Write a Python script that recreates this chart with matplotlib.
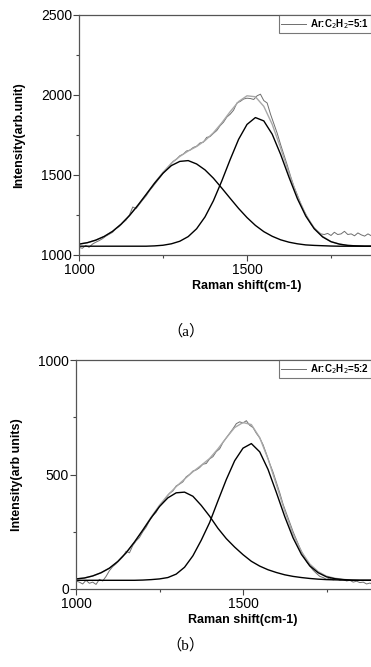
import matplotlib
matplotlib.use("Agg")
import matplotlib.pyplot as plt
from matplotlib.ticker import MultipleLocator, FixedLocator

x_fit = [1000, 1025, 1050, 1075, 1100, 1125, 1150, 1175, 1200, 1225, 1250, 1275,
         1300, 1325, 1350, 1375, 1400, 1425, 1450, 1475, 1500, 1525, 1550, 1575,
         1600, 1625, 1650, 1675, 1700, 1725, 1750, 1775, 1800, 1825, 1850, 1875, 1900]

# (a) Ar:C2H2 = 5:1
d_peak_a = [1068, 1077, 1093, 1116, 1148, 1192, 1246, 1310, 1379, 1449, 1511, 1559,
            1585, 1590, 1569, 1532, 1480, 1418, 1354, 1291, 1234, 1185, 1146, 1117,
            1095, 1080, 1070, 1063, 1060, 1058, 1056, 1055, 1055, 1055, 1055, 1055, 1055]
g_peak_a = [1055, 1055, 1055, 1055, 1055, 1055, 1055, 1055, 1055, 1057, 1061, 1070,
            1086, 1115, 1164, 1238, 1339, 1463, 1597, 1723, 1816, 1859, 1838, 1755,
            1629, 1486, 1352, 1243, 1164, 1113, 1083, 1068, 1060, 1057, 1055, 1055, 1055]
sum_fit_a = [1068, 1077, 1093, 1116, 1148, 1192, 1246, 1310, 1379, 1451, 1517, 1574,
             1616, 1650, 1678, 1715, 1764, 1826, 1896, 1959, 1995, 1989, 1929, 1817,
             1669, 1511, 1367, 1251, 1169, 1116, 1084, 1068, 1060, 1057, 1055, 1055, 1055]

# (b) Ar:C2H2 = 5:2
d_peak_b = [44, 48, 57, 71, 91, 120, 158, 205, 257, 311, 360, 398,
            420, 423, 405, 365, 318, 265, 220, 183, 150, 121, 100, 84,
            72, 62, 55, 50, 46, 43, 41, 40, 39, 38, 38, 38, 38]
g_peak_b = [38, 38, 38, 38, 38, 38, 38, 38, 39, 41, 44, 50,
            65, 95, 145, 213, 290, 385, 478, 560, 615, 635, 599, 522,
            421, 316, 223, 151, 101, 71, 53, 45, 41, 39, 38, 38, 38]
sum_fit_b = [44, 48, 57, 71, 91, 120, 158, 205, 258, 314, 366, 410,
             447, 480, 512, 540, 570, 612, 660, 705, 727, 718, 661, 568,
             455, 340, 240, 163, 109, 76, 56, 47, 42, 39, 38, 38, 38]

# measured spectra, every 10 cm-1
x_raw = list(range(1000, 1901, 10))
raw_a = [1048, 1042, 1060, 1048, 1068, 1080, 1090, 1102, 1118, 1130,
         1142, 1165, 1178, 1200, 1218, 1250, 1300, 1290, 1318, 1345,
         1370, 1402, 1428, 1455, 1482, 1510, 1535, 1558, 1585, 1598,
         1620, 1630, 1650, 1655, 1672, 1680, 1700, 1705, 1735, 1740,
         1760, 1778, 1808, 1830, 1862, 1880, 1905, 1950, 1960, 1975,
         1980, 1978, 1972, 1995, 2005, 1965, 1950, 1880, 1820, 1760,
         1690, 1625, 1560, 1490, 1425, 1375, 1320, 1275, 1235, 1195,
         1170, 1150, 1132, 1128, 1135, 1122, 1142, 1128, 1132, 1148,
         1128, 1132, 1120, 1138, 1126, 1118, 1132, 1120, 1126, 1130, 1122]
raw_b = [35, 30, 22, 38, 25, 30, 20, 42, 35, 55,
         80, 98, 110, 125, 140, 165, 158, 190, 210, 225,
         250, 270, 298, 320, 335, 362, 378, 400, 418, 428,
         450, 458, 468, 490, 500, 515, 520, 530, 545, 548,
         568, 578, 600, 612, 640, 660, 680, 700, 722, 730,
         725, 735, 715, 705, 680, 660, 630, 590, 548, 510,
         465, 420, 370, 330, 290, 250, 215, 180, 150, 120,
         100, 82, 68, 55, 50, 42, 48, 40, 45, 38,
         42, 35, 38, 30, 34, 28, 30, 22, 26, 18, 22]

x_major = [1000, 1500]

panels = [
    dict(raw=raw_a, d=d_peak_a, g=g_peak_a, s=sum_fit_a, ylim=(1000, 2500),
         ylabel="Intensity(arb.unit)", legend="Ar:C$_2$H$_2$=5:1", caption="（a）",
         pos=[79 / 371, 412 / 667, 336 / 371, 240 / 667], cap_y=336 / 667),
    dict(raw=raw_b, d=d_peak_b, g=g_peak_b, s=sum_fit_b, ylim=(0, 1000),
         ylabel="Intensity(arb units)", legend="Ar:C$_2$H$_2$=5:2", caption="（b）",
         pos=[76 / 371, 78 / 667, 334 / 371, 229 / 667], cap_y=22 / 667),
]

plt.rcParams["font.family"] = ["Liberation Sans", "DejaVu Sans"]
fig = plt.figure(figsize=(3.71, 6.67), dpi=100)

for p in panels:
    ax = fig.add_axes(p["pos"])
    ax.plot(x_raw, p["raw"], color="#6e6e6e", lw=0.7, label=p["legend"])
    ax.plot(x_fit, p["s"], color="#a8a8a8", lw=1.0)
    ax.plot(x_fit, p["d"], color="black", lw=1.0)
    ax.plot(x_fit, p["g"], color="black", lw=1.0)

    # axis runs past the right edge of the picture, as in the original crop
    ax.set_xlim(1000, 2000)
    ax.set_ylim(*p["ylim"])
    ax.xaxis.set_major_locator(FixedLocator(x_major))
    ax.xaxis.set_minor_locator(FixedLocator([1250, 1750]))
    ax.yaxis.set_major_locator(MultipleLocator(500))
    ax.yaxis.set_minor_locator(MultipleLocator(250))
    ax.tick_params(which="both", direction="out", color="#444444", width=0.8,
                   labelsize=10, pad=1)
    ax.tick_params(axis="x", pad=2)
    ax.tick_params(which="major", length=4)
    ax.tick_params(which="minor", length=2.5)
    for sp in ax.spines.values():
        sp.set_color("#555555")
        sp.set_linewidth(0.9)

    ax.set_xlabel("Raman shift(cm-1)", fontsize=9, fontweight="bold", labelpad=2)
    ax.set_ylabel(p["ylabel"], fontsize=9, fontweight="bold")
    ax.yaxis.set_label_coords(-0.16, 0.5)

    top = p["pos"][1] + p["pos"][3]
    leg = ax.legend(loc="upper right", bbox_to_anchor=(1.0, top),
                    bbox_transform=fig.transFigure, fontsize=7, frameon=True,
                    fancybox=False, borderpad=0.2, handlelength=2.6,
                    handletextpad=0.4, borderaxespad=0)
    leg.get_frame().set_edgecolor("#555555")
    leg.get_frame().set_linewidth(0.8)
    for t in leg.get_texts():
        t.set_fontweight("bold")

    fig.text(0.5, p["cap_y"], p["caption"], ha="center", va="center", fontsize=11,
             family=["Liberation Serif", "Noto Sans CJK SC"])

fig.savefig("out.png", dpi=100)
